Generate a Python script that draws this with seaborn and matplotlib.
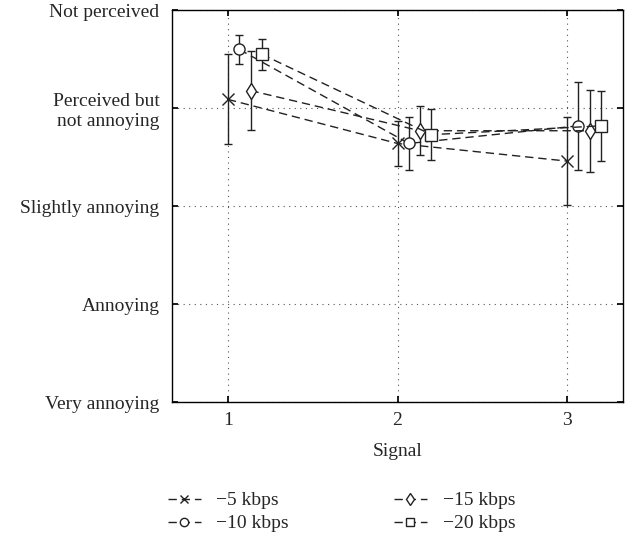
import seaborn as sns
import matplotlib.pyplot as plt
import pandas as pd

# data
signals = [1, 2, 3]
rates = ["\u22125 kbps", "\u221210 kbps", "\u221215 kbps", "\u221220 kbps"]
offsets = [0.0, 0.067, 0.133, 0.2]
means_5 = [4.09, 3.64, 3.46]
means_10 = [4.60, 3.64, 3.82]
means_15 = [4.18, 3.77, 3.77]
means_20 = [4.55, 3.73, 3.82]
err_5 = [0.46, 0.23, 0.45]
err_10 = [0.15, 0.27, 0.45]
err_15 = [0.40, 0.25, 0.42]
err_20 = [0.16, 0.26, 0.36]
ytick_labels = ["Very annoying", "Annoying", "Slightly annoying",
                "Perceived but\nnot annoying", "Not perceived"]

means = [means_5, means_10, means_15, means_20]
errs = [err_5, err_10, err_15, err_20]
markers = ["x", "o", "d", "s"]

rows = []
for r, off, m, e in zip(rates, offsets, means, errs):
    for s, v, ee in zip(signals, m, e):
        rows.append({"rate": r, "x": s + off, "score": v, "err": ee})
df = pd.DataFrame(rows)

sns.set_theme(style="ticks")
plt.rcParams["font.family"] = ["Liberation Serif", "DejaVu Serif"]

fig = plt.figure(figsize=(6.3, 5.39), dpi=100)
ax = fig.add_axes([0.273, 0.254, 0.716, 0.727])

ax.grid(True, linestyle=(0, (1, 4)), color="#555555", linewidth=0.8)

for r, mk in zip(rates, markers):
    d = df[df["rate"] == r]
    ax.errorbar(d["x"], d["score"], yerr=d["err"], fmt="none",
                ecolor="#222222", elinewidth=1.0, capsize=3, capthick=1.0)
    sns.lineplot(data=d, x="x", y="score", label=r, color="#222222",
                 marker=mk, markersize=8, markerfacecolor="white",
                 markeredgecolor="#222222", markeredgewidth=1.0,
                 linestyle=(0, (6, 3.5)), linewidth=1.0, ax=ax)

ax.set_xlim(0.67, 3.33)
ax.set_ylim(1, 5)
ax.set_xticks(signals)
ax.set_yticks([1, 2, 3, 4, 5])
ax.set_yticklabels(ytick_labels, fontsize=14)
ax.tick_params(axis="x", labelsize=14, pad=7)
ax.tick_params(axis="y", pad=9)
ax.tick_params(direction="in", top=True, right=True, length=4, color="black")
for sp in ax.spines.values():
    sp.set_color("black")
    sp.set_linewidth(1.0)
ax.set_xlabel("Signal", fontsize=14, labelpad=10)
ax.set_ylabel("")

handles, labels = ax.get_legend_handles_labels()
ax.get_legend().remove()
fig.legend(handles, labels, ncol=2, frameon=False, fontsize=14,
           loc="upper center", bbox_to_anchor=(0.542, 0.12),
           handlelength=1.7, columnspacing=5.4, labelspacing=0.28,
           handletextpad=0.8, markerscale=0.75)

fig.savefig("out.png", dpi=100)
